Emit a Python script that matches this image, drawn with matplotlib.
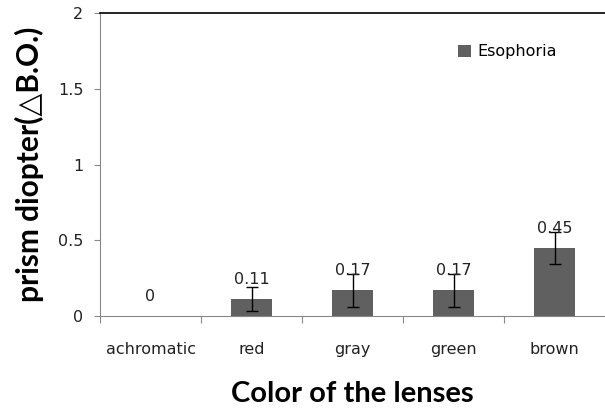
import matplotlib.pyplot as plt
import numpy as np

colors = ["achromatic", "red", "gray", "green", "brown"]
esophoria = [0, 0.11, 0.17, 0.17, 0.45]
errors = [0, 0.08, 0.11, 0.11, 0.105]
y_ticks = [0, 0.5, 1, 1.5, 2]

fig = plt.figure(figsize=(6.05, 4.12), dpi=100)
ax = fig.add_axes([0.1653, 0.233, 0.8347, 0.735])

x = np.arange(len(colors))
ax.bar(x, esophoria, width=0.4, color="#606060", label="Esophoria", zorder=2)
mask = np.array(errors) > 0
ax.errorbar(x[mask], np.array(esophoria)[mask], yerr=np.array(errors)[mask],
            fmt="none", ecolor="black", elinewidth=1, capsize=4.5, capthick=1, zorder=3)

for xi, v in zip(x, esophoria):
    ax.annotate(f"{v:g}", (xi, v), xytext=(0, 14), textcoords="offset points",
                ha="center", va="center", fontsize=11.5, color="#222222",
                family="DejaVu Sans")

ax.set_xlim(-0.5, len(colors) - 0.5)
ax.set_ylim(0, 2)
ax.set_yticks(y_ticks)
ax.set_yticklabels([f"{t:g}" for t in y_ticks])
ax.set_xticks(x)
ax.set_xticklabels(colors)
ax.set_xticks(np.arange(len(colors)) - 0.5, minor=True)

ax.tick_params(axis="x", which="major", length=0, pad=19, labelsize=11.5, labelcolor="#222222")
ax.tick_params(axis="x", which="minor", length=5, width=0.8, color="#888888", direction="out")
ax.tick_params(axis="y", length=4, width=0.8, color="#888888", labelsize=11.5,
               labelcolor="#222222", pad=8)

ax.spines["right"].set_visible(False)
ax.spines["top"].set_color("black")
ax.spines["top"].set_linewidth(1.2)
ax.spines["left"].set_color("#888888")
ax.spines["bottom"].set_color("#888888")

ax.set_ylabel("prism diopter(\u25b3B.O.)", fontsize=21.5, fontweight="bold",
              family=["Lato", "DejaVu Sans"], labelpad=10)
ax.set_xlabel("Color of the lenses", fontsize=21, fontweight="bold",
              family=["Lato", "DejaVu Sans"], labelpad=17)

ax.legend(loc="upper left", bbox_to_anchor=(0.68, 0.945), frameon=False,
          fontsize=11.5, handlelength=0.8, handleheight=0.8, handletextpad=0.4)

fig.savefig("out.png", dpi=100)
